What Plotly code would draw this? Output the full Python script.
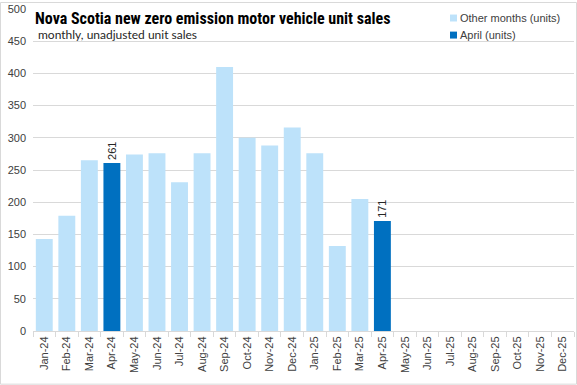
import plotly.graph_objects as go

months = ["Jan-24","Feb-24","Mar-24","Apr-24","May-24","Jun-24","Jul-24","Aug-24","Sep-24","Oct-24","Nov-24","Dec-24",
          "Jan-25","Feb-25","Mar-25","Apr-25","May-25","Jun-25","Jul-25","Aug-25","Sep-25","Oct-25","Nov-25","Dec-25"]
other_months = [143, 179, 265, None, 274, 276, 231, 276, 410, 300, 288, 316,
                276, 132, 205, None, None, None, None, None, None, None, None, None]
april = [None, None, None, 261, None, None, None, None, None, None, None, None,
         None, None, None, 171, None, None, None, None, None, None, None, None]
series_names = ["Other months (units)", "April (units)"]
series_colors = ["#BDE2FA", "#0070C0"]
april_labels = ["" if v is None else str(v) for v in april]

fig = go.Figure()
fig.add_trace(go.Bar(x=months, y=other_months, name=series_names[0], showlegend=False,
                     marker=dict(color=series_colors[0], line=dict(width=0))))
fig.add_trace(go.Bar(x=months, y=april, name=series_names[1], showlegend=False,
                     marker=dict(color=series_colors[1], line=dict(width=0)),
                     text=april_labels, textposition="outside", textangle=-90,
                     constraintext="none",
                     textfont=dict(family="Liberation Sans", size=11, color="#262626"),
                     cliponaxis=False))

# chart-area border (paper coordinates extending over the margins)
shapes = [dict(type="rect", xref="paper", yref="paper",
               x0=-0.0601, x1=1.0046, y0=-0.1651, y1=1.0201,
               line=dict(color="#D9D9D9", width=1), fillcolor="rgba(0,0,0,0)", layer="above")]

# legend drawn as small squares + labels (paper coordinates)
legend_ann = []
leg_y = [0.972, 0.919]
for name, col, yc in zip(series_names, series_colors, leg_y):
    shapes.append(dict(type="rect", xref="paper", yref="paper",
                       x0=0.7708, x1=0.7837, y0=yc - 0.0108, y1=yc + 0.0108,
                       fillcolor=col, line=dict(width=0)))
    legend_ann.append(dict(text=name, xref="paper", yref="paper", x=0.7856, y=yc,
                           xanchor="left", yanchor="middle", showarrow=False,
                           font=dict(family="Liberation Sans", size=11, color="#404040")))

fig.update_layout(
    width=577, height=385,
    margin=dict(l=33, r=3, t=7, b=54),
    paper_bgcolor="white", plot_bgcolor="white",
    barmode="overlay", bargap=0.25,
    font=dict(family="Liberation Sans", size=11, color="#595959"),
    showlegend=False,
    xaxis=dict(type="category", tickangle=-90, showgrid=False, showline=True,
               linecolor="#D9D9D9", linewidth=1, ticks="outside", ticklen=5,
               tickcolor="#D9D9D9", tickson="boundaries",
               tickfont=dict(family="Liberation Sans", size=11, color="#404040")),
    yaxis=dict(range=[0, 500], dtick=50, showgrid=True, gridcolor="#D9D9D9",
               gridwidth=1, zeroline=False, showline=False, ticklabelstandoff=6,
               tickfont=dict(family="Liberation Sans", size=11, color="#404040")),
    shapes=shapes,
    annotations=[
        dict(text="<b>Nova Scotia new zero emission motor vehicle unit sales</b>",
             xref="paper", yref="paper", x=0.0, y=0.969, xanchor="left", yanchor="middle",
             showarrow=False, font=dict(family="Roboto Condensed", size=16, color="#000000")),
        dict(text="monthly, unadjusted unit sales",
             xref="paper", yref="paper", x=0.005, y=0.921, xanchor="left", yanchor="middle",
             showarrow=False, font=dict(family="Lato", size=12, color="#262626")),
    ] + legend_ann,
)
fig.write_html("out.html", config={"displayModeBar": False},
               post_script="document.body.style.margin='0';document.body.style.overflow='hidden';")
